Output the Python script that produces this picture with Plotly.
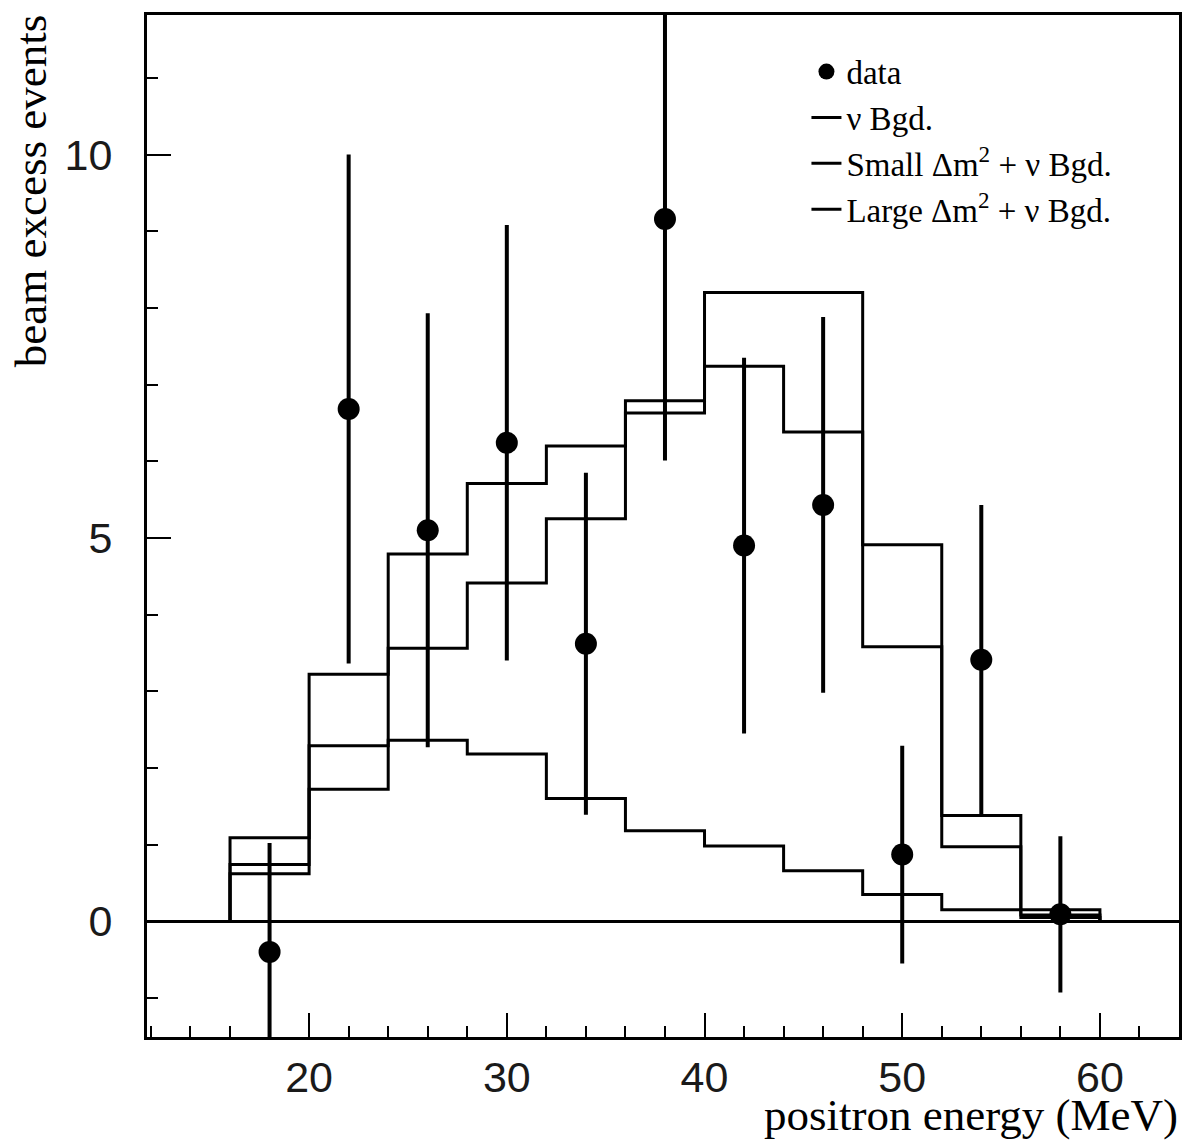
import plotly.graph_objects as go

# Positron energy bins (MeV), 4 MeV wide
bin_edges = [16, 20, 24, 28, 32, 36, 40, 44, 48, 52, 56, 60]

# Measured beam-excess events per bin
data_energy = [18, 22, 26, 30, 34, 38, 42, 46, 50, 54, 58]
data_events = [-0.40, 6.68, 5.10, 6.24, 3.62, 9.16, 4.90, 5.43, 0.87, 3.41, 0.09]
data_errors = [1.42, 3.32, 2.83, 2.84, 2.23, 3.15, 2.45, 2.45, 1.42, 2.02, 1.02]

# Expected events per bin
nu_bgd = [0.62, 1.72, 2.36, 2.18, 1.60, 1.18, 0.98, 0.66, 0.35, 0.15, 0.05]
small_dm2 = [0.74, 2.29, 3.56, 4.41, 5.25, 6.63, 7.24, 6.38, 3.58, 0.97, 0.08]
large_dm2 = [1.09, 3.22, 4.79, 5.71, 6.20, 6.79, 8.20, 8.20, 4.91, 1.38, 0.15]


def step_outline(edges, values):
    """Closed histogram outline drawn with an 'hv' line shape."""
    xs = [edges[0]] + list(edges[:-1]) + [edges[-1]]
    ys = [0] + list(values) + [0]
    return xs, ys


fig = go.Figure()

for rank, (name, vals, grp) in enumerate([
    ("\u03bd Bgd.", nu_bgd, "b"),
    ("Small \u0394m<sup>2</sup> + \u03bd Bgd.", small_dm2, "c"),
    ("Large \u0394m<sup>2</sup> + \u03bd Bgd.", large_dm2, "d"),
], start=2):
    xs, ys = step_outline(bin_edges, vals)
    fig.add_trace(go.Scatter(
        x=xs, y=ys, mode="lines", name=name, legendgroup=grp,
        legendrank=rank,
        line=dict(shape="hv", color="black", width=3),
    ))

# data points drawn last so they sit on top of the histograms
fig.add_trace(go.Scatter(
    x=data_energy, y=data_events, mode="markers", name="data",
    marker=dict(symbol="circle", size=22, color="black"),
    error_y=dict(type="data", array=data_errors, visible=True,
                 color="black", thickness=4, width=0),
    legendgroup="a", legendrank=1,
))

tick_font = dict(family="Liberation Sans", size=43, color="#1a1a1a")
serif = "Liberation Serif"

fig.update_layout(
    width=1191, height=1142,
    margin=dict(l=147, r=9, t=15, b=105),
    paper_bgcolor="white", plot_bgcolor="white",
    showlegend=True,
    legend=dict(
        x=0.639, y=0.972, xanchor="left", yanchor="top",
        font=dict(family=serif, size=33, color="black"),
        bgcolor="rgba(0,0,0,0)", traceorder="normal",
        tracegroupgap=3,
    ),
    xaxis=dict(
        range=[11.8, 64], tickmode="linear", tick0=0, dtick=10,
        ticks="inside", ticklen=24, tickwidth=2, tickcolor="black",
        minor=dict(dtick=2, ticks="inside", ticklen=11, tickwidth=2,
                   tickcolor="black"),
        showline=True, linecolor="black", linewidth=3, mirror=True,
        showgrid=False, zeroline=False, tickfont=tick_font,
        ticklabelstandoff=0,
    ),
    yaxis=dict(
        range=[-1.51, 11.82], tickmode="linear", tick0=0, dtick=5,
        ticks="inside", ticklen=24, tickwidth=2, tickcolor="black",
        minor=dict(dtick=1, ticks="inside", ticklen=11, tickwidth=2,
                   tickcolor="black"),
        showline=True, linecolor="black", linewidth=3, mirror=True,
        showgrid=False, zeroline=True, zerolinecolor="black",
        zerolinewidth=3, tickfont=tick_font, ticklabelstandoff=23,
    ),
    annotations=[
        dict(text="positron energy (MeV)", xref="paper", yref="paper",
             x=1.0, y=-0.1018, xanchor="right", yanchor="bottom",
             showarrow=False, borderpad=0,
             font=dict(family=serif, size=45, color="black")),
        dict(text="beam excess events", xref="paper", yref="paper",
             x=-0.113, y=0.828, xanchor="center", yanchor="middle",
             textangle=-90, showarrow=False,
             font=dict(family=serif, size=45, color="black")),
    ],
)

fig.write_html("out.html")
